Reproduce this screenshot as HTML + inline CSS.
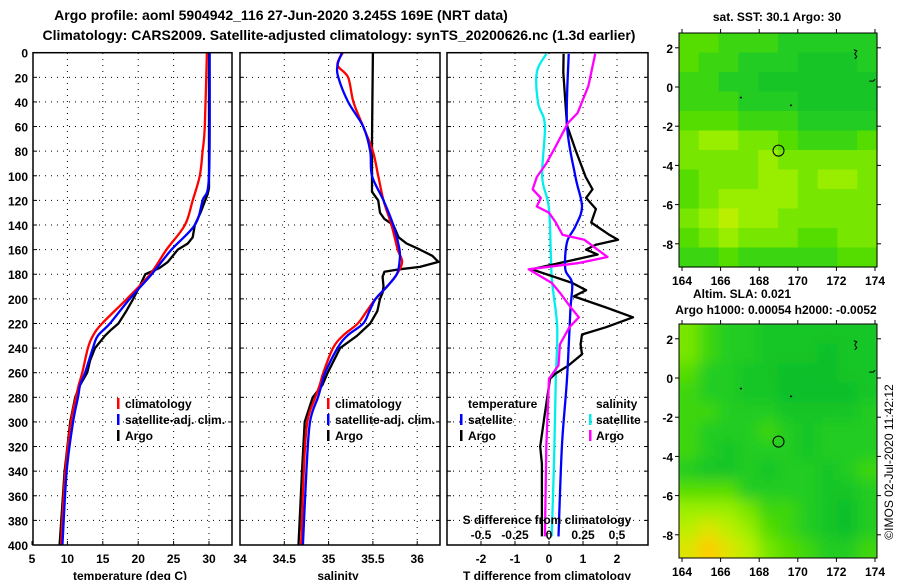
<!DOCTYPE html>
<html><head><meta charset="utf-8">
<style>
html,body{margin:0;padding:0;background:#fff;}
svg{display:block;font-family:"Liberation Sans",sans-serif;font-weight:bold;}
text{font-size:12px;fill:#000;}
</style></head>
<body>
<svg id="chart" width="900" height="580" viewBox="0 0 900 580">
<defs>
<clipPath id="c1"><rect x="33" y="52" width="199" height="493"/></clipPath>
<clipPath id="c2"><rect x="240" y="52" width="200" height="493"/></clipPath>
<clipPath id="c3"><rect x="447" y="52" width="201" height="493"/></clipPath>
<clipPath id="cm2"><rect x="679" y="324" width="198" height="234"/></clipPath>
<filter id="blur"><feGaussianBlur stdDeviation="7"/></filter>
</defs>
<text x="281" y="20" text-anchor="middle" style="font-size:14px">Argo profile: aoml 5904942_116 27-Jun-2020 3.245S 169E (NRT data)</text>
<text x="339" y="40" text-anchor="middle" style="font-size:14px">Climatology: CARS2009. Satellite-adjusted climatology: synTS_20200626.nc (1.3d earlier)</text>
<g id="grid"></g>
<g id="lines"></g>
<g id="frames"></g>
<g id="labels"></g>
<g id="maps"></g>
<text transform="translate(893,462) rotate(-90)" text-anchor="middle" style="font-size:12px;font-weight:normal">©IMOS 02-Jul-2020 11:42:12</text>
</svg>
<script>
// ---------- data ----------
const depthTicks = [0,20,40,60,80,100,120,140,160,180,200,220,240,260,280,300,320,340,360,380,400];
const tempTicks = [5,10,15,20,25,30];
const salTicks = [34,34.5,35,35.5,36];
const tdiffTicks = [-2,-1,0,1,2];
const sdiffTickLabels = ["-0.5","-0.25","0","0.25","0.5"];
const sdiffTickValues = [-0.5,-0.25,0,0.25,0.5];

const tClimDepth = [0,60,80,100,120,140,160,180,200,220,230,240,260,270,280,300,340,400];
const tClimVal   = [29.7,29.4,29.1,28.7,27.7,26.6,24,21.7,18.4,14.9,13.6,12.9,12.1,11.6,11.2,10.5,9.7,9.1];
const tSatDepth  = [0,100,120,140,160,180,200,220,230,240,260,270,280,300,340,400];
const tSatVal    = [30.1,30,29.1,28,24.7,21.9,18.8,16,14.3,13.6,12.5,11.8,11.5,10.8,9.9,9.3];
const tArgoDepth = [0,110,115,130,140,150,155,160,170,175,180,185,190,200,210,220,225,230,240,250,260,270,280,300,340,400];
const tArgoVal   = [30,30,29.8,28.8,28,27.7,27,25.6,24.2,23,21,20.6,20.2,19.3,18.3,17.2,16.2,15.3,13.9,13.2,12.8,11.8,11.1,10.4,9.6,8.9];

const sClimDepth = [0,10,20,40,60,80,100,120,140,160,170,180,190,200,210,220,230,240,260,270,280,300,340,400];
const sClimVal   = [35.16,35.1,35.22,35.28,35.39,35.5,35.56,35.62,35.71,35.78,35.83,35.77,35.66,35.53,35.43,35.33,35.16,35.05,34.94,34.9,34.85,34.76,34.72,34.69];
const sSatDepth  = [0,10,20,40,60,80,100,120,140,160,170,180,190,200,210,220,230,240,260,270,280,300,340,400];
const sSatVal    = [35.15,35.1,35.11,35.22,35.39,35.47,35.49,35.62,35.73,35.8,35.8,35.77,35.66,35.53,35.46,35.39,35.21,35.1,34.96,34.92,34.88,34.79,34.75,34.71];
const sArgoDepth = [0,70,113,120,130,135,140,150,155,160,165,170,174,176,178,182,190,195,200,210,220,230,240,260,270,280,300,340,400];
const sArgoVal   = [35.5,35.49,35.49,35.56,35.58,35.63,35.73,35.79,35.88,36.03,36.17,36.24,36.03,35.8,35.63,35.61,35.62,35.61,35.58,35.55,35.47,35.32,35.13,34.99,34.93,34.82,34.73,34.7,34.66];

const dtArgoDepth = [1,16,59,79,101,111,118,127,138,148,152,156,160,164,168,176,187,193,198,207,215,223,229,237,245,254,261,265,293,320,334,362,393];
const dtArgoVal   = [0.43,0.42,0.53,0.78,1.08,1.28,1.09,1.38,1.24,1.78,2.03,1.38,1.09,1.43,0.78,-0.51,0.68,1.09,0.73,1.68,2.47,1.68,0.97,0.93,0.97,0.58,0.18,0.03,-0.12,-0.26,-0.21,-0.21,-0.21];
const dtSatDepth  = [1,59,101,125,141,154,176,187,209,265,320,393];
const dtSatVal    = [0.58,0.53,0.78,0.97,0.78,0.53,0.48,0.68,0.63,0.53,0.38,0.28];
const dsSatDepth  = [1,16,41,59,101,127,182,223,265,320,393];
const dsSatVal    = [-0.02,-0.09,-0.08,-0.03,-0.05,0,0.02,0.06,0.05,0.04,0.02];
const dsArgoDepth = [1,27,49,57,76,90,101,111,118,125,130,138,148,152,166,171,176,187,195,207,215,223,237,254,265,320,393];
const dsArgoVal   = [0.34,0.29,0.21,0.14,0.05,-0.02,-0.09,-0.12,-0.06,-0.09,0,0.05,0.1,0.26,0.43,0.21,-0.15,0.02,0.08,0.16,0.22,0.15,0.08,0.07,0,-0.02,-0.03];

const mapLonTicks = [164,166,168,170,172,174];
const mapLatTicks = [2,0,-2,-4,-6,-8];
const argoLon = 169.0, argoLat = -3.245;
const sstGrid = [
 [5,5,4,4,4,3,3,3,3,3],
 [5,4,4,3,3,3,2,2,2,3],
 [4,4,3,3,2,2,2,2,2,2],
 [4,4,4,3,3,3,2,2,2,2],
 [5,5,5,4,4,4,3,3,3,3],
 [6,7,7,6,6,5,4,4,4,5],
 [6,6,6,6,7,6,6,6,6,6],
 [5,6,6,6,7,7,6,7,7,6],
 [5,6,7,7,7,7,6,6,6,6],
 [6,7,8,7,7,6,6,6,6,6],
 [5,6,7,6,6,6,5,5,6,6],
 [4,4,5,4,4,4,4,4,5,5]];
const slaGrid = [
 [6,4,3,3,2,2,2,2,2,2],
 [6,4,3,3,2,2,2,1,2,2],
 [5,3,3,2,2,1,1,1,2,2],
 [4,3,3,2,2,1,1,1,1,2],
 [4,4,3,3,3,2,2,2,2,3],
 [4,3,3,3,4,3,2,3,3,3],
 [4,3,2,3,3,3,2,3,3,3],
 [3,2,2,3,2,3,3,2,3,4],
 [5,5,5,3,3,3,3,2,2,3],
 [7,7,7,6,4,4,3,2,1,3],
 [8,9,8,7,5,4,3,2,1,3],
 [9,10,9,8,6,5,4,3,3,4]];

// ---------- scales ----------
const NS='http://www.w3.org/2000/svg';
const Y0=52.7, YS=(545-52.7)/400;
const yD = d => Y0 + d*YS;
const xT = t => 32 + (t-5)*7.08;
const xS = s => 240 + (s-34)*88.6;
const xDT = d => 549 + d*34;
const xDS = s => 549 + s*136;
function mk(tag, attrs, parent){const e=document.createElementNS(NS,tag);for(const k in attrs)e.setAttribute(k,attrs[k]);parent.appendChild(e);return e;}
const G=id=>document.getElementById(id);

const panels=[{x0:33,x1:232,ticks:tempTicks,sc:xT,lab:tempTicks.map(String)},
 {x0:240,x1:440,ticks:salTicks,sc:xS,lab:salTicks.map(String)},
 {x0:447,x1:648,ticks:tdiffTicks,sc:xDT,lab:tdiffTicks.map(String)}];
panels.forEach((p,i)=>{
  depthTicks.forEach(d=>{
    if(d>0&&d<400){
      const l=mk('line',{x1:p.x0,x2:p.x1,y1:yD(d),y2:yD(d),stroke:'#000','stroke-dasharray':'1,5'},G('grid'));
      
      
    }
    mk('line',{x1:p.x0,x2:p.x0+4,y1:yD(d),y2:yD(d),stroke:'#000'},G('frames'));
    mk('line',{x1:p.x1-4,x2:p.x1,y1:yD(d),y2:yD(d),stroke:'#000'},G('frames'));
  });
  p.ticks.forEach((t,j)=>{
    const x=p.sc(t);
    if(x>p.x0+2&&x<p.x1-2){
      const l=mk('line',{x1:x,x2:x,y1:53,y2:545,stroke:'#000','stroke-dasharray':'1,5'},G('grid'));
      
      
    }
    mk('line',{x1:x,x2:x,y1:541,y2:545,stroke:'#000'},G('frames'));
    const tx=mk('text',{x:x,y:563,'text-anchor':'middle'},G('labels'));
    tx.textContent=p.lab[j];
    
    
  });
  const r=mk('rect',{x:p.x0,y:52.7,width:p.x1-p.x0,height:492.3,fill:'none',stroke:'#000','stroke-width':1.5},G('frames'));
  
  
});
depthTicks.forEach(d=>{
  const t=mk('text',{x:28,y:yD(d)+5,'text-anchor':'end'},G('labels'));
  t.textContent=d;
  
  
});
function smoothPath(P){
  let s='M'+P[0][0].toFixed(1)+','+P[0][1].toFixed(1);
  for(let i=0;i<P.length-1;i++){
    const p0=P[i-1]||P[i],p1=P[i],p2=P[i+1],p3=P[i+2]||p2;
    const c1=[p1[0]+(p2[0]-p0[0])/6,p1[1]+(p2[1]-p0[1])/6];
    const c2=[p2[0]-(p3[0]-p1[0])/6,p2[1]-(p3[1]-p1[1])/6];
    s+=' C'+c1.map(v=>v.toFixed(1)).join(',')+' '+c2.map(v=>v.toFixed(1)).join(',')+' '+p2.map(v=>v.toFixed(1)).join(',');
  }
  return s;
}
function series(ds,vs,sc,color,clip,name,smooth){
  const P=ds.map((d,i)=>[sc(vs[i]),yD(d)]);
  let el;
  if(smooth){
    el=mk('path',{d:smoothPath(P),fill:'none',stroke:color,'stroke-width':2.3,'clip-path':'url(#'+clip+')'},G('lines'));
  } else {
    el=mk('polyline',{points:P.map(p=>p[0].toFixed(1)+','+p[1].toFixed(1)).join(' '),fill:'none',stroke:color,'stroke-width':2.3,'clip-path':'url(#'+clip+')','stroke-linejoin':'round'},G('lines'));
  }
  
  
}
series(tArgoDepth,tArgoVal,xT,'#000','c1','argo-temperature-line',false);
series(tClimDepth,tClimVal,xT,'#ff0000','c1','climatology-temperature-line',true);
series(tSatDepth,tSatVal,xT,'#0000ff','c1','satellite-temperature-line',true);
series(sArgoDepth,sArgoVal,xS,'#000','c2','argo-salinity-line',false);
series(sClimDepth,sClimVal,xS,'#ff0000','c2','climatology-salinity-line',true);
series(sSatDepth,sSatVal,xS,'#0000ff','c2','satellite-salinity-line',true);
series(dsSatDepth,dsSatVal,xDS,'#00eeee','c3','satellite-salinity-diff-line',true);
series(dtArgoDepth,dtArgoVal,xDT,'#000','c3','argo-temperature-diff-line',false);
series(dtSatDepth,dtSatVal,xDT,'#0000ff','c3','satellite-temperature-diff-line',true);
series(dsArgoDepth,dsArgoVal,xDS,'#ff00ff','c3','argo-salinity-diff-line',false);

function txt(x,y,s,anchor,name,size){const t=mk('text',{x:x,y:y,'text-anchor':anchor||'start'},G('labels'));if(size)t.style.fontSize=size;t.textContent=s;return t;}
function bar(x,y,c){mk('rect',{x:x,y:y-10,width:2.5,height:11,fill:c},G('labels'));}
[[117,125],[327,335]].forEach(([bx,tx],k)=>{
  const lg=['climatology','satellite-adj. clim.','Argo'], cs=['#ff0000','#0000ff','#000'];
  lg.forEach((s,i)=>{bar(bx,408+i*16,cs[i]);txt(tx,408+i*16,s,'start','legend-entry-'+(k+1)+'-'+(i+1));});
});
txt(468,408,'temperature','start','legend-heading-temperature');
bar(460,424,'#0000ff');txt(468,424,'satellite','start','legend-entry-t-satellite');
bar(460,440,'#000');txt(468,440,'Argo','start','legend-entry-t-argo');
txt(596,408,'salinity','start','legend-heading-salinity');
bar(589,424,'#00eeee');txt(596,424,'satellite','start','legend-entry-s-satellite');
bar(589,440,'#ff00ff');txt(596,440,'Argo','start','legend-entry-s-argo');
txt(547,524,'S difference from climatology','middle','s-diff-axis-title');
sdiffTickValues.forEach((v,i)=>txt(xDS(v),539,sdiffTickLabels[i],'middle','s-diff-tick-label'));
txt(130,580,'temperature (deg C)','middle','temperature-axis-title');
txt(338,580,'salinity','middle','salinity-axis-title');
txt(547,580,'T difference from climatology','middle','t-diff-axis-title');

// ---------- maps ----------
const stops=[[0,[0,184,48]],[3,[34,204,34]],[5,[85,221,0]],[7,[153,238,0]],[8.5,[204,240,0]],[10,[255,204,0]]];
function col(v){for(let i=1;i<stops.length;i++){if(v<=stops[i][0]){const a=stops[i-1],b=stops[i],f=(v-a[0])/(b[0]-a[0]);return 'rgb('+a[1].map((c,j)=>Math.round(c+(b[1][j]-c)*f)).join(',')+')';}}return 'rgb(255,204,0)';}
function drawMap(top,grid,blurred,name){
  const L=679,R=877,B=top+234;
  const lonX=lon=>682+(lon-164)*19.3;
  const latY=lat=>top+54+(-lat)*19.6;
  const g=mk('g',{},G('maps'));
  
  
  const inner=mk('g',blurred?{'clip-path':'url(#cm2)'}:{},g);
  const inner2=mk('g',blurred?{filter:'url(#blur)'}:{},inner);
  const rows=grid.length, cols=grid[0].length, cw=(R-L)/cols, rh=(B-top)/rows;
  grid.forEach((row,r)=>row.forEach((v,c)=>{
    const ex=blurred?12:0;
    const x0=L+c*cw-(c===0?ex:0), y0=top+r*rh-(r===0?ex:0);
    const w=cw+0.6+(c===0||c===cols-1?ex:0), h=rh+0.6+(r===0||r===rows-1?ex:0);
    const cell=mk('rect',{x:x0,y:y0,width:w,height:h,fill:col(v)},inner2);
    
    
  }));
  mk('path',{d:`M${lonX(172.9)},${latY(1.9)} l3,1 -2,3 2,3 -2,2 M${lonX(173.7)},${latY(0.3)} l4,0 2,-2`,stroke:'#000','stroke-width':1,fill:'none'},g);
  mk('rect',{x:lonX(167),y:latY(-0.5),width:2,height:1.5,fill:'#000'},g);
  mk('rect',{x:lonX(169.6),y:latY(-0.9),width:2,height:1.5,fill:'#000'},g);
  const c=mk('circle',{cx:lonX(argoLon),cy:latY(argoLat),r:5.5,fill:'none',stroke:'#000','stroke-width':1},g);
  
  
  mk('rect',{x:L,y:top,width:R-L,height:B-top,fill:'none',stroke:'#000','stroke-width':1},g);
  mapLatTicks.forEach(lat=>{
    mk('line',{x1:L-4,x2:L,y1:latY(lat),y2:latY(lat),stroke:'#000'},g);
    mk('line',{x1:R,x2:R+4,y1:latY(lat),y2:latY(lat),stroke:'#000'},g);
    const t=mk('text',{x:673,y:latY(lat)+5,'text-anchor':'end'},g);
    t.textContent=lat;
    
    
  });
  mapLonTicks.forEach(lon=>{
    mk('line',{x1:lonX(lon),x2:lonX(lon),y1:B,y2:B+4,stroke:'#000'},g);
    mk('line',{x1:lonX(lon),x2:lonX(lon),y1:top-4,y2:top,stroke:'#000'},g);
    const t=mk('text',{x:lonX(lon),y:B+18,'text-anchor':'middle'},g);
    t.textContent=lon;
    
    
  });
}
drawMap(33,sstGrid,false,'sst-map');
drawMap(324,slaGrid,true,'sla-map');
txt(777,21,'sat. SST: 30.1 Argo: 30','middle','sst-map-title');
txt(742,298,'Altim. SLA: 0.021','middle','sla-map-title');
txt(776,314,'Argo h1000: 0.00054 h2000: -0.0052','middle','argo-height-label');
</script>
</body></html>
